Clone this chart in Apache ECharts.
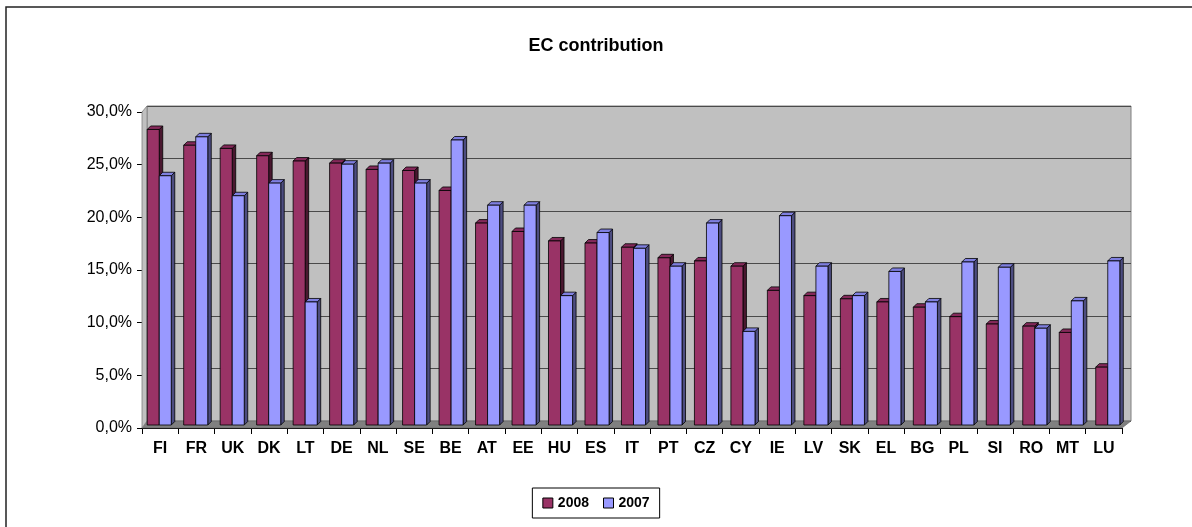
<!DOCTYPE html>
<html>
<head>
<meta charset="utf-8">
<script src="https://cdn.jsdelivr.net/npm/echarts@6/dist/echarts.min.js"></script>
<style>
html,body{margin:0;padding:0;background:#fff;}
#chart{width:1192px;height:527px;}
</style>
</head>
<body>
<div id="chart"></div>
<script>
const categories = ['FI','FR','UK','DK','LT','DE','NL','SE','BE','AT','EE','HU','ES','IT','PT','CZ','CY','IE','LV','SK','EL','BG','PL','SI','RO','MT','LU'];
const values2008 = [28.1,26.6,26.3,25.6,25.1,24.9,24.3,24.2,22.3,19.2,18.4,17.5,17.3,16.9,15.9,15.6,15.1,12.8,12.3,12.0,11.7,11.2,10.3,9.6,9.4,8.8,5.5];
const values2007 = [23.7,27.4,21.8,23.0,11.7,24.8,24.9,23.0,27.1,20.9,20.9,12.3,18.3,16.8,15.1,19.2,8.9,19.9,15.1,12.3,14.6,11.7,15.5,15.0,9.2,11.8,15.6];
const seriesNames = ['2008','2007'];
const yMin = 0, yMax = 30, yStep = 5;

const FONT = '"Liberation Sans", Arial, sans-serif';
const chart = echarts.init(document.getElementById('chart'));

// layout (front plane, bar plane, back wall)
const W = 1192, H = 527;
const front = {left:142, right:1122, top:112, bottom:428};
const bars  = {left:141, right:1126, top:109.5, bottom:425};
const back  = {left:147, right:1131, top:106, bottom:421};

const pal = {
  '2008': {front:'#993366', top:'#84295a', side:'#4a1830'},
  '2007': {front:'#9999ff', top:'#7f7fe0', side:'#4d4d80'}
};

function makeRender(slot, c) {
  return function(params, api) {
    const i = api.value(0), v = api.value(1);
    const t = api.coord([i, v]);
    const b = api.coord([i, 0]);
    const band = api.size([1, 0])[0];
    const w = band * 0.33;
    const x0 = slot === 0 ? t[0] - w : t[0];
    const x1 = x0 + w;
    const d = 3.5;
    const st = {stroke:'#000', lineWidth:0.8};
    return {
      type:'group',
      children:[
        {type:'polygon', shape:{points:[[x1,t[1]],[x1+d,t[1]-d],[x1+d,b[1]-d],[x1,b[1]]]}, style:Object.assign({fill:c.side}, st)},
        {type:'polygon', shape:{points:[[x0,t[1]],[x0+d,t[1]-d],[x1+d,t[1]-d],[x1,t[1]]]}, style:Object.assign({fill:c.top}, st)},
        {type:'rect', shape:{x:x0, y:t[1], width:w, height:b[1]-t[1]}, style:Object.assign({fill:c.front}, st)}
      ]
    };
  };
}

const fmt = v => v.toFixed(1).replace('.', ',') + '%';

chart.setOption({
  animation:false,
  backgroundColor:'#fff',
  title:{
    text:'EC contribution', left:'center', top:32,
    textStyle:{fontFamily:FONT, fontSize:18, fontWeight:'bold', color:'#000'}
  },
  legend:{
    data:seriesNames, bottom:9, left:'center',
    icon:'rect', itemWidth:10, itemHeight:10, itemGap:14,
    borderColor:'#000', borderWidth:1, padding:[8,10,8,10],
    textStyle:{fontFamily:FONT, fontSize:14, fontWeight:'bold', color:'#000'},
    itemStyle:{borderColor:'#000', borderWidth:1}
  },
  grid:[
    {left:back.left, right:W-back.right, top:back.top, bottom:H-back.bottom, show:true, backgroundColor:'#c0c0c0', borderColor:'#808080', borderWidth:1, z:0},
    {left:front.left, right:W-front.right, top:front.top, bottom:H-front.bottom},
    {left:bars.left, right:W-bars.right, top:bars.top, bottom:H-bars.bottom}
  ],
  xAxis:[
    {type:'category', gridIndex:0, data:categories, show:false},
    {type:'category', gridIndex:1, data:categories,
      axisLine:{lineStyle:{color:'#000', width:1}},
      axisTick:{show:true, length:6, lineStyle:{color:'#000'}},
      axisLabel:{fontFamily:FONT, fontSize:16, fontWeight:'bold', color:'#000', margin:13, interval:0}},
    {type:'category', gridIndex:2, data:categories, show:false}
  ],
  yAxis:[
    {type:'value', gridIndex:0, min:yMin, max:yMax, interval:yStep,
      axisLine:{show:false}, axisTick:{show:false}, axisLabel:{show:false},
      splitLine:{lineStyle:{color:'#4a4a4a', width:1.2}}},
    {type:'value', gridIndex:1, min:yMin, max:yMax, interval:yStep,
      axisLine:{show:true, lineStyle:{color:'#000'}},
      axisTick:{show:true, length:5, lineStyle:{color:'#000'}},
      axisLabel:{fontFamily:FONT, fontSize:16, color:'#000', margin:10, formatter:fmt},
      splitLine:{show:false}},
    {type:'value', gridIndex:2, min:yMin, max:yMax, interval:yStep, show:false, splitLine:{show:false}}
  ],
  graphic:[
    // outer chart frame
    {type:'rect', shape:{x:6, y:7, width:1250, height:600}, style:{fill:'none', stroke:'#222', lineWidth:1.5}, z:-1, silent:true},
    // floor
    {type:'polygon', shape:{points:[[front.left,front.bottom],[front.right,front.bottom],[back.right,back.bottom],[back.left,back.bottom]]},
      style:{fill:'#808080', stroke:'#606060', lineWidth:0.6}, z:1, silent:true},
    // left side wall
    {type:'polygon', shape:{points:[[front.left,front.top],[back.left,back.top],[back.left,back.bottom],[front.left,front.bottom]]},
      style:{fill:'#c0c0c0', stroke:'#808080', lineWidth:0.8}, z:1, silent:true}
  ],
  series:[
    {name:'2008', type:'custom', xAxisIndex:2, yAxisIndex:2, z:3,
      itemStyle:{color:pal['2008'].front, borderColor:'#000', borderWidth:1},
      renderItem:makeRender(0, pal['2008']),
      data:values2008.map((v,i)=>[i,v])},
    {name:'2007', type:'custom', xAxisIndex:2, yAxisIndex:2, z:4,
      itemStyle:{color:pal['2007'].front, borderColor:'#000', borderWidth:1},
      renderItem:makeRender(1, pal['2007']),
      data:values2007.map((v,i)=>[i,v])}
  ]
});
</script>
</body>
</html>
